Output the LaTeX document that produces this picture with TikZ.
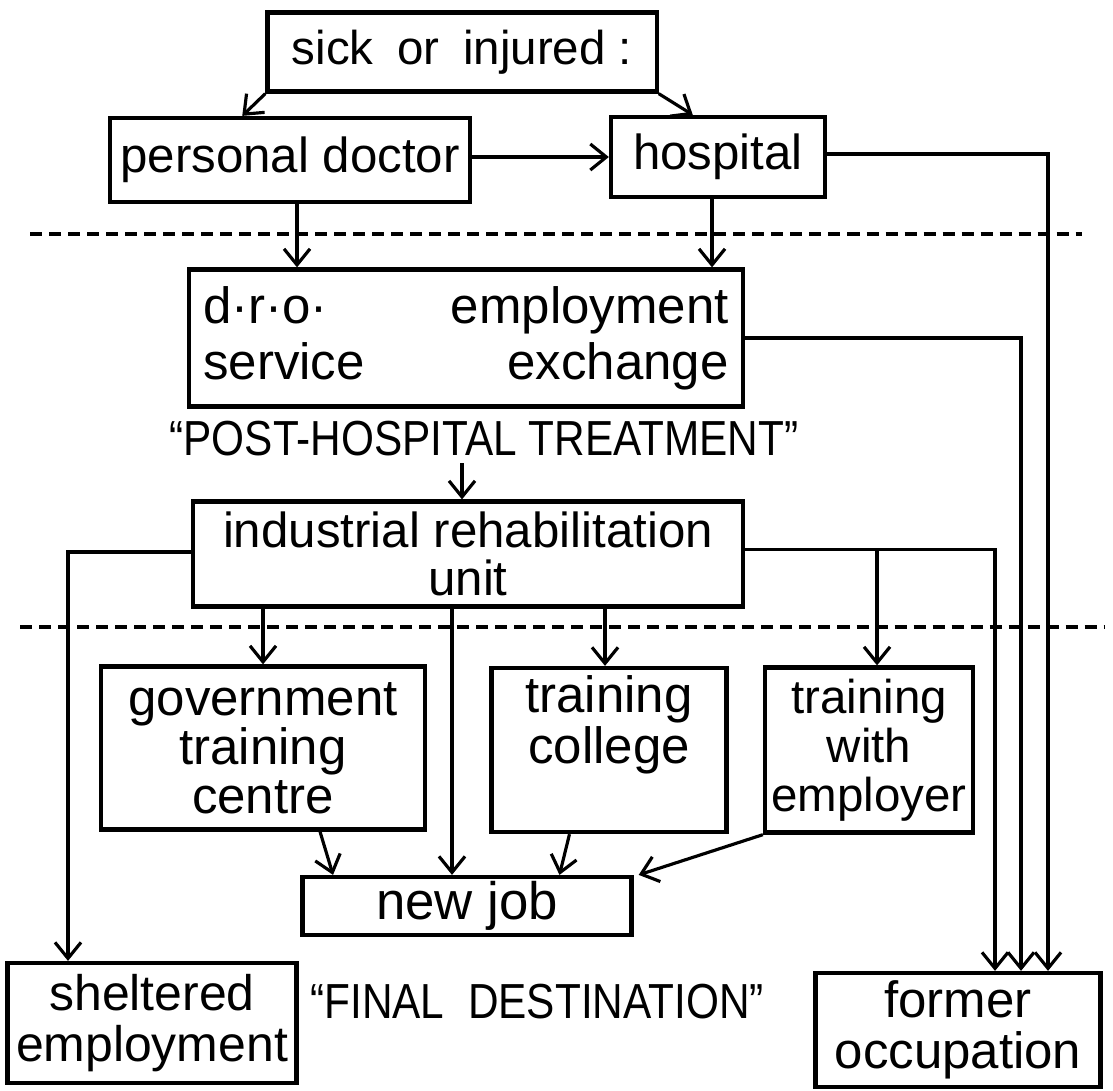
\documentclass[tikz,border=0pt]{standalone}
\usepackage{fontspec}
\setmainfont{Liberation Sans}
\usetikzlibrary{arrows.meta}

\newcommand{\capsfont}{\fontsize{14}{16}\selectfont\addfontfeature{FakeStretch=0.86}}

\begin{document}
\begin{tikzpicture}[x=0.01cm,y=-0.01cm,
  box/.style={draw,line width=1.2pt,inner sep=1pt,align=center,font=\fontsize{14.5}{14}\selectfont},
  conn/.style={line width=0.9pt,-{Straight Barb[length=1.6mm,width=2.6mm]}},
  divider/.style={line width=1.1pt,dash pattern=on 0.12cm off 0.07cm},
  caption/.style={inner sep=0pt,anchor=base,font=\capsfont}]
\useasboundingbox (0,0) rectangle (1113,1090);
%\draw[step=100,gray,very thin] (0,0) grid (1113,1090);

% first contact
\node[box,minimum width=3.89cm,minimum height=0.79cm,font=\fontsize{13.5}{15}\selectfont] (sick) at (462,52) {sick\enspace or\enspace injured :};
\node[box,minimum width=3.60cm,minimum height=0.84cm,font=\fontsize{14}{15}\selectfont] (doctor) at (290,160) {personal doctor};
\node[box,minimum width=2.14cm,minimum height=0.80cm,font=\fontsize{14}{15}\selectfont] (hospital) at (718,157) {hospital};

% post-hospital treatment
\node[box,minimum width=5.54cm,minimum height=1.37cm,text width=5.25cm,align=left,font=\fontsize{14.5}{16}\selectfont] (dro) at (466,338) {d·r·o·\hfill employment\\service\hfill exchange};
\node[caption] (post) at (484,455) {“POST-HOSPITAL TREATMENT”};
\node[box,minimum width=5.49cm,minimum height=1.05cm,font=\fontsize{14}{13.5}\selectfont] (iru) at (468,554) {industrial rehabilitation\\unit};

% training
\node[box,minimum width=3.24cm,minimum height=1.63cm,font=\fontsize{14.5}{14}\selectfont] (gov) at (263,748) {government\\training\\centre};
\node[box,minimum width=2.35cm,minimum height=1.64cm,font=\fontsize{14.5}{14.5}\selectfont] (college) at (609,750) {training\\college\rule[-0.6cm]{0pt}{0pt}};
\node[box,minimum width=2.08cm,minimum height=1.65cm,font=\fontsize{13.5}{14}\selectfont] (employer) at (869,750) {training\\with\\employer};

% final destination
\node[box,minimum width=3.29cm,minimum height=0.58cm,font=\fontsize{15}{16}\selectfont] (newjob) at (467,906) {new job};
\node[box,minimum width=2.89cm,minimum height=1.20cm,font=\fontsize{14.2}{14.5}\selectfont] (shelter) at (152,1023) {sheltered\\employment};
\node[caption] (final) at (537,1018) {“FINAL\hspace{0.12cm} DESTINATION”};
\node[box,minimum width=2.85cm,minimum height=1.14cm,font=\fontsize{14.5}{14.5}\selectfont] (former) at (958,1030) {former\\occupation};

% columns of the vertical runs
\coordinate (colD) at (297,0);
\coordinate (colH) at (712,0);
\coordinate (colP) at (462,0);
\coordinate (colS) at (68,0);
\coordinate (colJ) at (452,0);
\coordinate (colT) at (605,0);
\coordinate (colE) at (877,0);
\coordinate (colA) at (995,0);
\coordinate (colB) at (1021,0);
\coordinate (colC) at (1048,0);

\draw[divider] (30,234) -- (1082,234);
\draw[divider] (20,627) -- (1105,627);

\draw[conn] (sick.south west) -- ([xshift=-0.23cm]sick.south west |- doctor.north);
\draw[conn] (sick.south east) -- ([xshift=0.34cm]sick.south east |- hospital.north);
\draw[conn] (doctor.east |- hospital.west) -- (hospital.west);
\draw[conn] ([yshift=0.03cm]hospital.east) -| (colC |- former.north);
\draw[conn] (colD |- doctor.south) -- (colD |- dro.north);
\draw[conn] (colH |- hospital.south) -- (colH |- dro.north);
\draw[conn] (dro.east) -| (colB |- former.north);
\draw[conn] ([yshift=-0.07cm]colP |- post.south) -- (colP |- iru.north);

\coordinate (iruL) at ([yshift=0.02cm]iru.west);
\coordinate (iruR) at ([yshift=0.045cm]iru.east);
\draw[conn] (iruL) -| (colS |- shelter.north);
\draw[conn] (iruR) -| (colA |- former.north);
\draw[conn] (colE |- iruR) -- (colE |- employer.north);
\draw[conn] (gov.north |- iru.south) -- (gov.north);
\draw[conn] (colJ |- iru.south) -- (colJ |- newjob.north);
\draw[conn] (colT |- iru.south) -- (colT |- college.north);

\draw[conn] ([xshift=0.57cm]gov.south) -- ([xshift=0.70cm]gov.south |- newjob.north);
\draw[conn] ([xshift=-0.395cm]college.south) -- ([xshift=-0.495cm]college.south |- newjob.north);
\draw[conn] (employer.south west) -- ([xshift=0.05cm]newjob.north east);

\end{tikzpicture}
\end{document}
